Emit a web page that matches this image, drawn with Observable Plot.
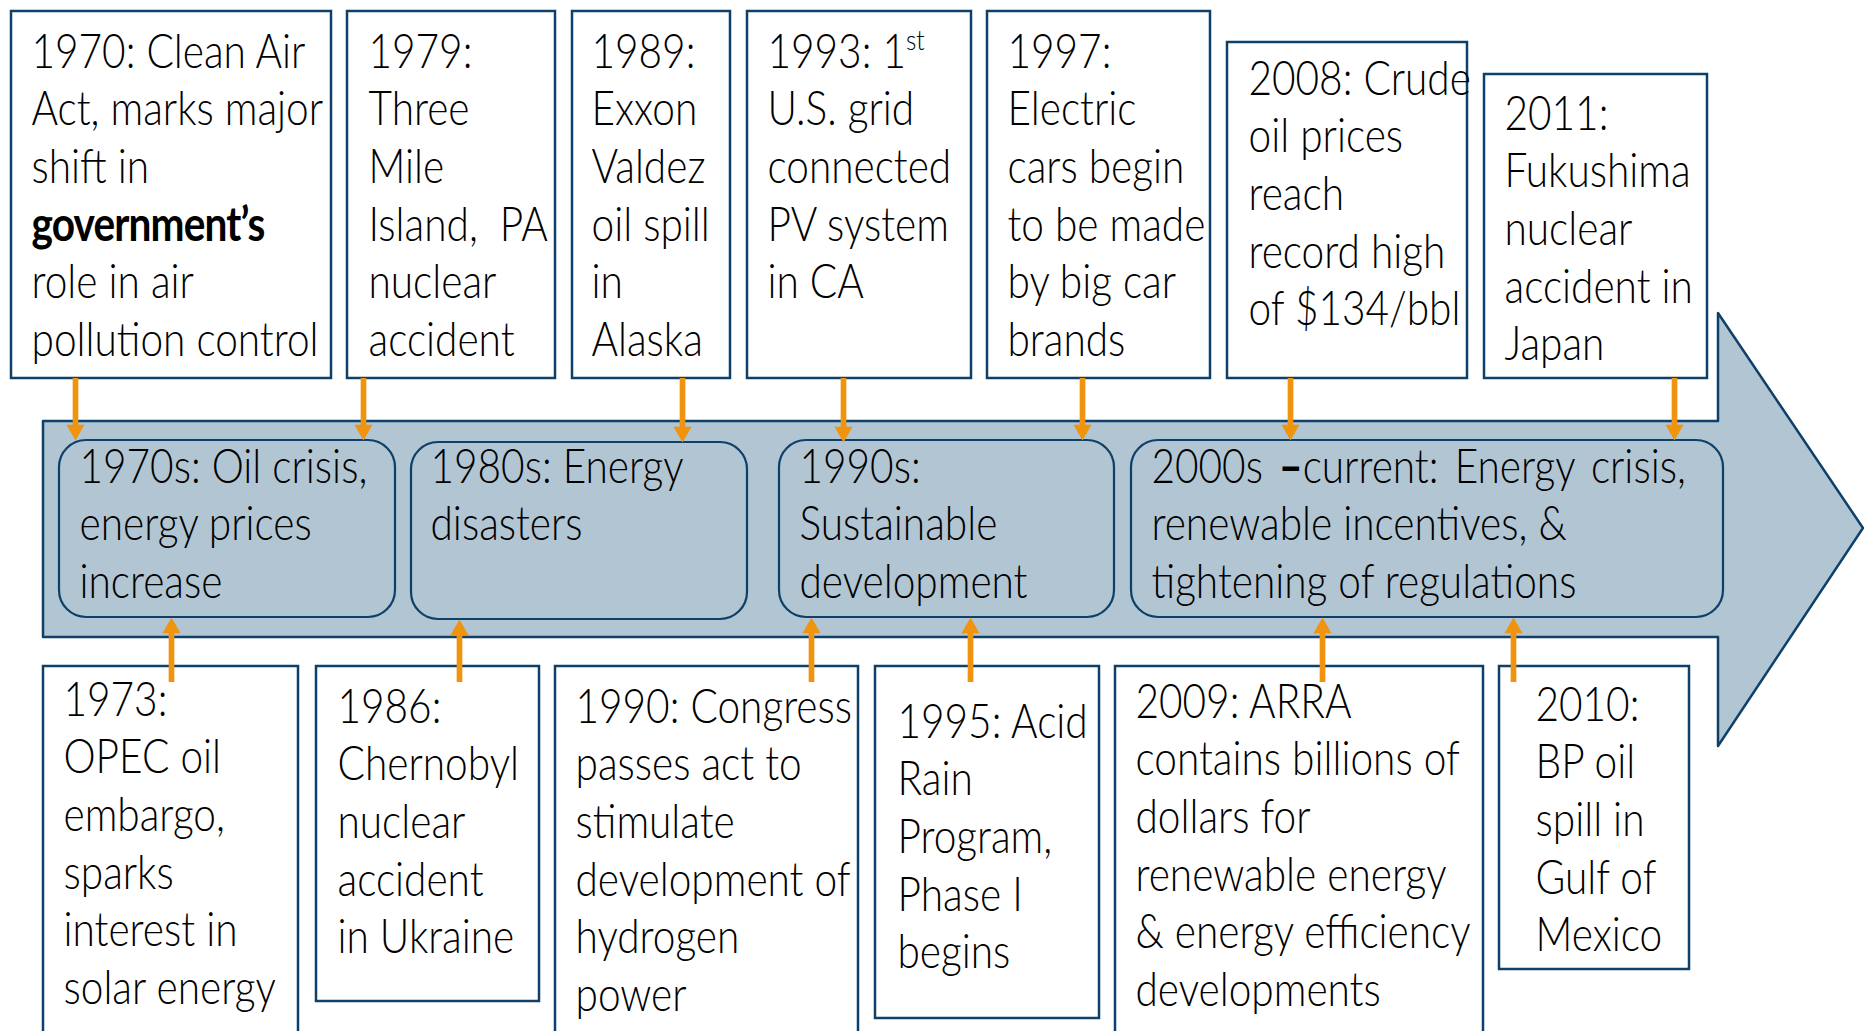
<!DOCTYPE html>
<html>
<head>
<meta charset="utf-8">
<script src="https://cdn.jsdelivr.net/npm/d3@7"></script>
<script src="https://cdn.jsdelivr.net/npm/@observablehq/plot@0.6"></script>
<style>
html, body { margin: 0; padding: 0; background: #fff; }
#chart svg { display: block; overflow: hidden; }
</style>
</head>
<body>
<div id="chart"></div>
<script>
// ---------- content ----------
const topEvents = [
  "1970: Clean Air\nAct, marks major\nshift in\ngovernment\u2019s\nrole in air\npollution control",
  "1979:\nThree\nMile\nIsland,  PA\nnuclear\naccident",
  "1989:\nExxon\nValdez\noil spill\nin\nAlaska",
  "1993: 1st\nU.S. grid\nconnected\nPV system\nin CA",
  "1997:\nElectric\ncars begin\nto be made\nby big car\nbrands",
  "2008: Crude\noil prices\nreach\nrecord high\nof $134/bbl",
  "2011:\nFukushima\nnuclear\naccident in\nJapan"
];
const decades = [
  "1970s: Oil crisis,\nenergy prices\nincrease",
  "1980s: Energy\ndisasters",
  "1990s:\nSustainable\ndevelopment",
  "2000s \u2013current: Energy crisis,\nrenewable incentives, &\ntightening of regulations"
];
const bottomEvents = [
  "1973:\nOPEC oil\nembargo,\nsparks\ninterest in\nsolar energy",
  "1986:\nChernobyl\nnuclear\naccident\nin Ukraine",
  "1990: Congress\npasses act to\nstimulate\ndevelopment of\nhydrogen\npower",
  "1995: Acid\nRain\nProgram,\nPhase I\nbegins",
  "2009: ARRA\ncontains billions of\ndollars for\nrenewable energy\n& energy efficiency\ndevelopments",
  "2010:\nBP oil\nspill in\nGulf of\nMexico"
];
// which decade box each event arrow points to
const topTarget = [0, 0, 1, 1, 2, 3, 3];
const bottomTarget = [0, 1, 2, 2, 3, 3];

// ---------- layout (diagram units = pixels of the 1864x1031 canvas) ----------
const W = 1864, H = 1031;
const topBoxLeft   = [11, 347, 572, 747, 987, 1227, 1484];
const topBoxRight  = [331, 555, 730, 971, 1210, 1467, 1707];
const topBoxTop    = [11, 11, 11, 11, 11, 42, 74];
const topBoxBottom = 378;
const topTextX     = [31, 368, 591, 767, 1007, 1248, 1504];
const topBaseline  = [67, 67, 67, 67, 67, 94, 129];
const topArrowX    = [75, 363, 682, 843, 1082, 1290, 1674];

const decLeft    = [59, 411, 779, 1131];
const decRight   = [395, 747, 1114, 1723];
const decTop     = [440, 442, 440, 440];
const decBottom  = [617, 619, 617, 617];
const decTextX   = [79, 430, 799, 1151];
const decBaseline = [482, 482, 482, 482];

const botBoxLeft   = [43, 316, 555, 875, 1115, 1499];
const botBoxRight  = [298, 539, 858, 1099, 1483, 1689];
const botBoxTop    = 666;
const botBoxBottom = [1045, 1001, 1045, 1018, 1045, 969];
const botTextX     = [63, 337, 575, 897, 1135, 1535];
const botBaseline  = [715, 722, 722, 737, 717, 720];
const botArrowX    = [171, 459, 811, 970, 1322, 1513];
const botArrowStart = 682;

// band arrow outline: x, top edge, bottom edge
const bandX  = [43, 1718, 1718, 1863];
const bandY1 = [421, 421, 313, 528];
const bandY2 = [637, 637, 746, 528];

// ---------- styles ----------
const navy = "#0f4069";
const bandFill = "#b1c5d3";
const orange = "#f0930f";
const FONT = "Lato, Roboto, 'Noto Sans', sans-serif";
const FS = 47;
const LH = 1.228;
const FIRST = 0.71 * LH * FS;   // Plot's first-line offset for lineAnchor "top"
const REF_LINE = "1970: Clean Air";
const REF_WIDTH = 274;          // calibrated width of that line

// ---------- build rows ----------
const band = bandX.map((x, i) => ({x, y1: bandY1[i], y2: bandY2[i]}));
const topRows = topEvents.map((text, i) => ({
  text, x1: topBoxLeft[i], x2: topBoxRight[i], y1: topBoxTop[i], y2: topBoxBottom,
  tx: topTextX[i], ty: topBaseline[i] - FIRST,
  ax: topArrowX[i], ay1: topBoxBottom, ay2: decTop[topTarget[i]]
}));
const decRows = decades.map((text, i) => ({
  text, x1: decLeft[i], x2: decRight[i], y1: decTop[i], y2: decBottom[i],
  tx: decTextX[i], ty: decBaseline[i] - FIRST
}));
const botRows = bottomEvents.map((text, i) => ({
  text, x1: botBoxLeft[i], x2: botBoxRight[i], y1: botBoxTop, y2: botBoxBottom[i],
  tx: botTextX[i], ty: botBaseline[i] - FIRST,
  ax: botArrowX[i], ay1: botArrowStart, ay2: decBottom[bottomTarget[i]]
}));

const r = 6.7;                         // triangle symbol radius
const apex = 2 * Math.sqrt(Math.PI * r * r / (3 * Math.sqrt(3)));

const textOpts = {
  x: "tx", y: "ty", text: "text", textAnchor: "start", lineAnchor: "top",
  fontSize: FS, lineHeight: LH, fontFamily: FONT, fontWeight: 300, fill: "#000"
};

const chart = Plot.plot({
  width: W, height: H,
  marginTop: 0, marginRight: 0, marginBottom: 0, marginLeft: 0,
  x: {domain: [0, W], range: [0, W], axis: null},
  y: {domain: [0, H], range: [0, H], axis: null},
  style: {background: "#fff", overflow: "hidden"},
  marks: [
    Plot.areaY(band, {x: "x", y1: "y1", y2: "y2", fill: bandFill, stroke: navy, strokeWidth: 2.5, curve: "linear"}),
    Plot.rect(decRows, {x1: "x1", x2: "x2", y1: "y1", y2: "y2", rx: 27, fill: "none", stroke: navy, strokeWidth: 2.2}),
    Plot.rect(topRows, {x1: "x1", x2: "x2", y1: "y1", y2: "y2", fill: "#fff", stroke: navy, strokeWidth: 2.5}),
    Plot.rect(botRows, {x1: "x1", x2: "x2", y1: "y1", y2: "y2", fill: "#fff", stroke: navy, strokeWidth: 2.5}),
    Plot.ruleX(topRows, {x: "ax", y1: "ay1", y2: d => d.ay2 - 10, stroke: orange, strokeWidth: 5.7}),
    Plot.ruleX(botRows, {x: "ax", y1: "ay1", y2: d => d.ay2 + 10, stroke: orange, strokeWidth: 5.7}),
    Plot.dot(topRows, {x: "ax", y: "ay2", symbol: "triangle", r, rotate: 180, dy: -apex, fill: orange, stroke: "none"}),
    Plot.dot(botRows, {x: "ax", y: "ay2", symbol: "triangle", r, dy: apex, fill: orange, stroke: "none"}),
    Plot.text(topRows, textOpts),
    Plot.text(decRows, textOpts),
    Plot.text(botRows, textOpts)
  ]
});

document.getElementById("chart").appendChild(chart);

// ---------- typographic touches ----------
const svg = chart.tagName.toLowerCase() === "svg" ? chart : chart.querySelector("svg");
const tspans = Array.from(svg.querySelectorAll('g[aria-label="text"] tspan'));
const refSpan = tspans.find(ts => ts.textContent === REF_LINE);
const squeeze = refSpan ? Math.min(1, REF_WIDTH / refSpan.getComputedTextLength()) : 0.88;
svg.querySelectorAll('g[aria-label="text"] text').forEach(t => {
  const tr = t.getAttribute("transform") || "";
  t.setAttribute("transform", tr + ` scale(${squeeze},1)`);
});
const NS = "http://www.w3.org/2000/svg";
tspans.forEach(ts => {
  const s = ts.textContent;
  if (s === "government\u2019s") {
    ts.setAttribute("font-weight", "700");
    ts.setAttribute("letter-spacing", "-1");
  } else if (s === "1993: 1st") {
    ts.textContent = "1993: 1";
    const sup = document.createElementNS(NS, "tspan");
    sup.setAttribute("baseline-shift", "super");
    sup.setAttribute("font-size", "60%");
    sup.textContent = "st";
    ts.appendChild(sup);
  } else if (s.startsWith("2000s \u2013")) {
    ts.setAttribute("word-spacing", "6");
    ts.textContent = "2000s ";
    const dash = document.createElementNS(NS, "tspan");
    dash.setAttribute("font-weight", "900");
    dash.textContent = "\u2013";
    ts.appendChild(dash);
    ts.appendChild(document.createTextNode(s.slice(7)));
  }
});
</script>
</body>
</html>
